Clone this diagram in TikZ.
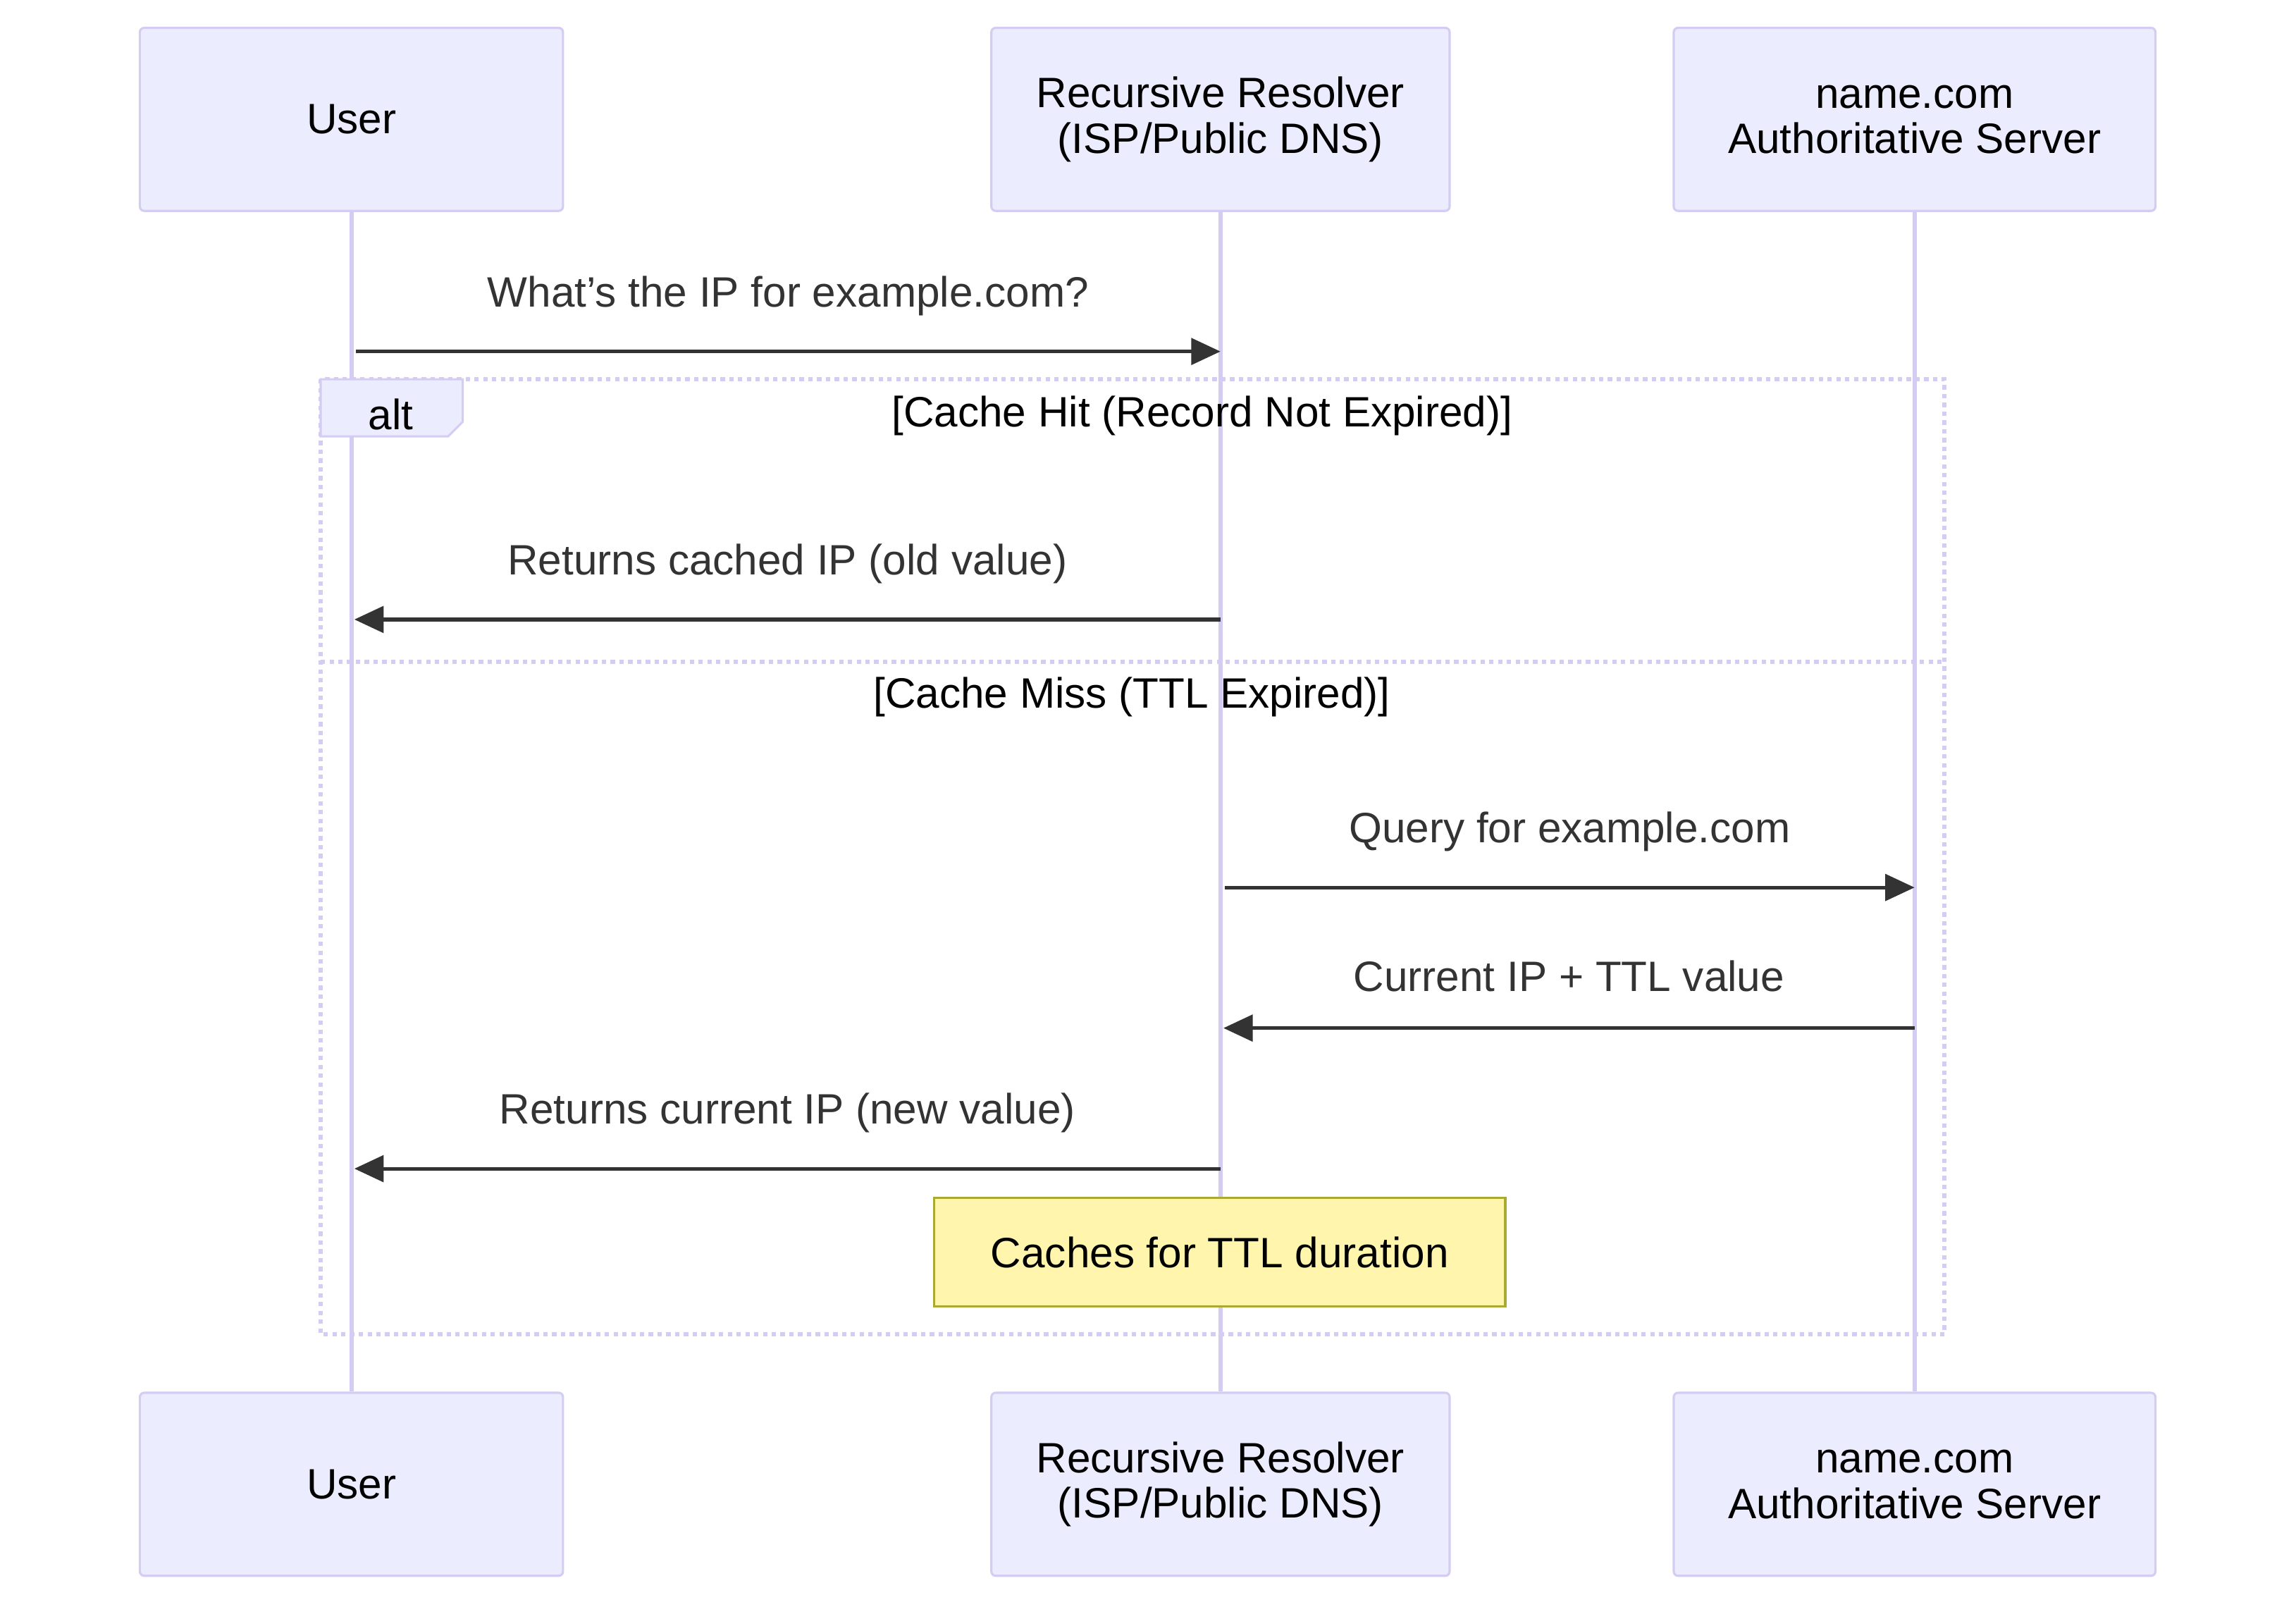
\documentclass[tikz,border=0pt]{standalone}
\usepackage{fontspec}
\setmainfont{Liberation Sans}
\usetikzlibrary{positioning,arrows.meta,calc}
\definecolor{actorFill}{HTML}{ECECFF}
\definecolor{actorLine}{HTML}{D4CCF2}
\definecolor{noteFill}{HTML}{FFF5AD}
\definecolor{noteLine}{HTML}{AAAA33}
\definecolor{msgText}{HTML}{333333}
\tikzset{
  actor/.style={draw=actorLine, fill=actorFill, line width=1.5pt, rounded corners=3pt,
    minimum width=#1, minimum height=125pt, align=center, font=\fontsize{29}{31}\selectfont},
  msg/.style={draw=msgText, line width=2.5pt, -{Triangle[length=20pt,width=18pt]}},
  msglabel/.style={font=\fontsize{29}{31}\selectfont, text=msgText},
  frame/.style={draw=actorLine, line width=3pt, dash pattern=on 3pt off 3pt}
}
\begin{document}
\begin{tikzpicture}[x=1pt,y=-1pt]
      \useasboundingbox (0,0) rectangle (1568,1097);

      % actors
      \node[actor=289pt] (userT) at (240,81.5) {User};
      \node[actor=313pt] (resT) at (833.5,81.5) {Recursive Resolver\\(ISP/Public DNS)};
      \node[actor=329pt] (authT) at (1307.5,81.5) {name.com\\Authoritative Server};
      \node[actor=289pt] (userB) at (240,1013.5) {User};
      \node[actor=313pt] (resB) at (833.5,1013.5) {Recursive Resolver\\(ISP/Public DNS)};
      \node[actor=329pt] (authB) at (1307.5,1013.5) {name.com\\Authoritative Server};

      % lifelines
      \draw[actorLine, line width=3pt] (userT.south) -- (userB.north);
      \draw[actorLine, line width=3pt] (resT.south) -- (resB.north);
      \draw[actorLine, line width=3pt] (authT.south) -- (authB.north);

      % alt frame
      \draw[frame] (219,259) rectangle (1328,911);
      \draw[frame] (219,452) -- (1328,452);
      \draw[actorLine, fill=actorFill, line width=1.5pt] (219,259) -- (316,259) -- (316,288) -- (306,298) -- (219,298) -- cycle;
      \node[msglabel, text=black] (altTag) at (267,283) {alt};
      \node[msglabel, text=black] (hitCond) at (821,284) {[Cache Hit (Record Not Expired)]};
      \node[msglabel, text=black] (missCond) at (773,476) {[Cache Miss (TTL Expired)]};

      % message points
      \foreach \n/\y in {1/240,2/423,5/798} {
        \coordinate (u\n) at (userT.south |- 0,\y);
        \coordinate (r\n) at (resT.south |- 0,\y);
      }
      \foreach \n/\y in {3/606,4/702} {
        \coordinate (r\n) at (resT.south |- 0,\y);
        \coordinate (a\n) at (authT.south |- 0,\y);
      }

      % messages
      \draw[msg] ($(u1)+(3,0)$) -- (r1) node[msglabel, midway, above=20pt] {What's the IP for example.com?};
      \draw[msg] (r2) -- ($(u2)+(2,0)$) node[msglabel, midway, above=20pt] {Returns cached IP (old value)};
      \draw[msg] ($(r3)+(3,0)$) -- (a3) node[msglabel, midway, above=20pt] {Query for example.com};
      \draw[msg] (a4) -- ($(r4)+(2,0)$) node[msglabel, midway, above=20pt] {Current IP + TTL value};
      \draw[msg] (r5) -- ($(u5)+(2,0)$) node[msglabel, midway, above=20pt] {Returns current IP (new value)};

      % note
      \node[draw=noteLine, fill=noteFill, line width=1.5pt, minimum width=390pt, minimum height=74pt,
        font=\fontsize{29}{31}\selectfont] (ttlNote) at (833,855) {Caches for TTL duration};
\end{tikzpicture}
\end{document}
